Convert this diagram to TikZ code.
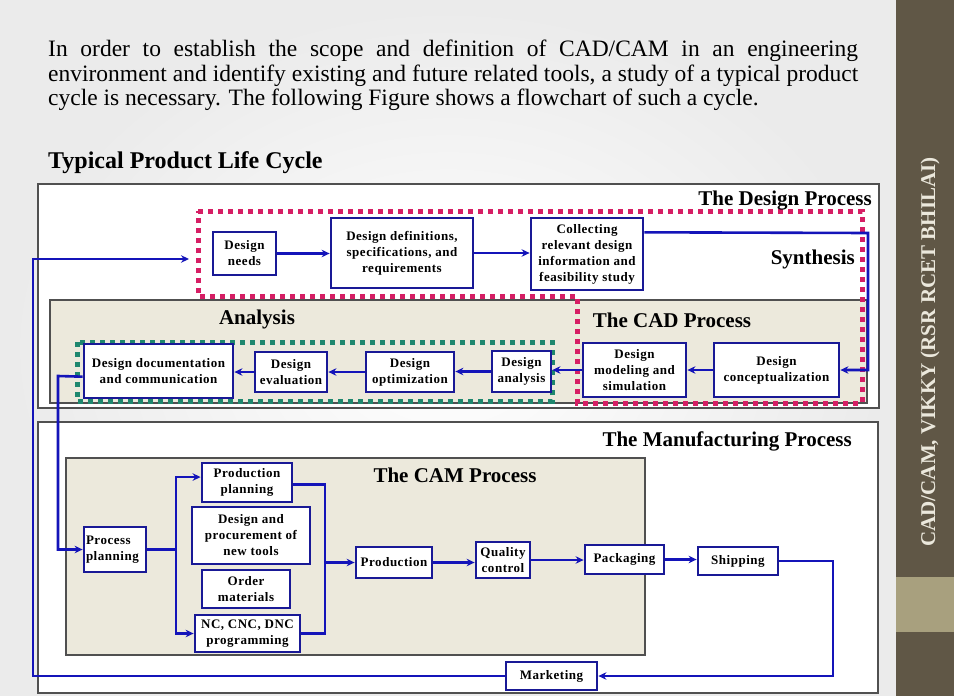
\documentclass[tikz,border=0pt]{standalone}
\usepackage{fontspec}
\setmainfont{Liberation Serif}
\usetikzlibrary{arrows.meta,calc}
\definecolor{flow}{RGB}{20,20,185}
\definecolor{boxb}{RGB}{25,25,150}
\definecolor{pinkd}{RGB}{214,30,100}
\definecolor{greend}{RGB}{30,135,110}
\definecolor{beige}{RGB}{236,233,220}
\definecolor{framec}{RGB}{80,80,80}
\definecolor{side}{RGB}{96,87,70}
\definecolor{sidelt}{RGB}{168,160,126}
\definecolor{sidetxt}{RGB}{235,232,220}
\newcommand{\boxfont}{\fontsize{13}{16}\selectfont\bfseries\addfontfeature{LetterSpace=4}}
\tikzset{
  bx/.style={draw=boxb, line width=2.8pt, fill=white, inner sep=1pt, align=center, font=\boxfont},
  arr/.style={draw=flow, line width=2.6pt, -{Stealth[length=8pt,width=7.5pt]}},
  ln/.style={draw=flow, line width=2.6pt},
  hd/.style={font=\fontsize{21}{23}\selectfont\bfseries, inner sep=0pt},
  region/.style={draw=framec, line width=1.3pt},
  pinkdots/.style={draw=pinkd, line width=5pt, dash pattern=on 5pt off 5pt},
  greendots/.style={draw=greend, line width=5pt, dash pattern=on 5pt off 5pt}
}
\begin{document}
\begin{tikzpicture}[x=1pt,y=-1pt]
\useasboundingbox (0,0) rectangle (954,696);
% background
\shade[inner color=white, outer color=black!8] (0,0) rectangle (896,696);
% sidebar
\fill[side] (896,0) rectangle (954,696);
\fill[sidelt] (896,577) rectangle (954,632);
\node[rotate=90, text=sidetxt, font=\fontsize{21}{23}\selectfont\bfseries] (sidet) at (930,352) {CAD/CAM, VIKKY (RSR RCET BHILAI)};
% paragraph
\node[anchor=north west, text width=810pt, align=justify, inner sep=0pt, font=\fontsize{23.5}{24.5}\selectfont] (para) at (48,40)
 {In order to establish the scope and definition of CAD/CAM in an engineering\linebreak environment and identify existing and future related tools, a study of a typical product\linebreak cycle is necessary. The following Figure shows a flowchart of such a cycle.};
\node[anchor=base west, inner sep=0pt, font=\fontsize{24}{26}\selectfont\bfseries] (title) at (48,168) {Typical Product Life Cycle};
% regions
\draw[region, fill=white] (38,184) rectangle (879,408);
\draw[region, fill=beige] (50,300) rectangle (867,403);
\draw[region, fill=white] (38,422) rectangle (878,693);
\draw[region, fill=beige] (66,458) rectangle (645,655);
\draw[pinkdots] (198,211) -- (862,211) -- (862,403) -- (577,403) -- (577,296) -- (198,296) -- cycle;
\draw[greendots] (77,342) rectangle (552,401);
% headings
\node[hd, anchor=east] (hdes) at (872,201) {The Design Process};
\node[hd, anchor=east] (hsyn) at (855,259) {Synthesis};
\node[hd] (hana) at (257,319) {Analysis};
\node[hd] (hcad) at (672,320) {The CAD Process};
\node[hd, anchor=east] (hman) at (852,441) {The Manufacturing Process};
\node[hd] (hcam) at (455,475) {The CAM Process};
% nodes
\node[bx, minimum width=63pt, minimum height=43pt] (needs) at (244.5,253.5) {Design\\needs};
\node[bx, minimum width=142pt, minimum height=70pt] (defs) at (402,253) {Design definitions,\\specifications, and\\requirements};
\node[bx, minimum width=112pt, minimum height=72pt] (coll) at (587,254) {Collecting\\relevant design\\information and\\feasibility study};
\node[bx, minimum width=125pt, minimum height=54pt] (concept) at (776.5,370) {Design\\conceptualization};
\node[bx, minimum width=103pt, minimum height=54pt] (model) at (634.5,370) {Design\\modeling and\\simulation};
\node[bx, minimum width=59pt, minimum height=41pt] (anal) at (521.5,371.5) {Design\\analysis};
\node[bx, minimum width=88pt, minimum height=40pt] (optim) at (410,372) {Design\\optimization};
\node[bx, minimum width=72pt, minimum height=40pt] (eval) at (291,372) {Design\\evaluation};
\node[bx, minimum width=149pt, minimum height=54pt] (doc) at (158.5,371) {Design documentation\\and communication};
\node[bx, minimum width=62pt, minimum height=45pt, align=left, text width=58pt] (procplan) at (115,549.5) {Process\\planning};
\node[bx, minimum width=90pt, minimum height=39pt] (prodplan) at (247,482.5) {Production\\planning};
\node[bx, minimum width=118pt, minimum height=57pt] (tools) at (251,535.5) {Design and\\procurement of\\new tools};
\node[bx, minimum width=88pt, minimum height=38pt] (order) at (246,589) {Order\\materials};
\node[bx, minimum width=105pt, minimum height=37pt] (nc) at (247.5,633.5) {NC, CNC, DNC\\programming};
\node[bx, minimum width=76pt, minimum height=31pt] (production) at (394,562.5) {Production};
\node[bx, minimum width=54pt, minimum height=36pt] (quality) at (503,560) {Quality\\control};
\node[bx, minimum width=79pt, minimum height=29pt] (pack) at (624.5,559.5) {Packaging};
\node[bx, minimum width=80pt, minimum height=28pt] (ship) at (738,561) {Shipping};
\node[bx, minimum width=91pt, minimum height=28pt] (market) at (551.5,676) {Marketing};
\coordinate (synthin) at (189,259);
% connectors
\draw[arr] (needs.east) -- (needs.east -| defs.west);
\draw[arr] (defs.east) -- (defs.east -| coll.west);
\draw[arr] ($(coll.north east)!0.21!(coll.south east)$) -- (868,233) |- (concept.east);
\draw[arr] (concept.west) -- (concept.west -| model.east);
\draw[arr] (model.west) -- (model.west -| anal.east);
\draw[arr] (anal.west) -- (anal.west -| optim.east);
\draw[arr] (optim.west) -- (optim.west -| eval.east);
\draw[arr] (eval.west) -- (eval.west -| doc.east);
\draw[arr] ($(doc.north west)!0.6!(doc.south west)$) -- (58,376) |- (procplan.west);
\draw[ln] (procplan.east) -- (176,549.5);
\draw[arr] (176,549.5) |- ($(prodplan.north west)!0.37!(prodplan.south west)$);
\draw[arr] (176,549.5) |- (nc.west);
\draw[ln] ($(prodplan.north east)!0.55!(prodplan.south east)$) -| (325,562.5);
\draw[ln] (nc.east) -| (325,562.5);
\draw[arr] (325,562.5) -- (production.west);
\draw[arr] (production.east) -- (production.east -| quality.west);
\draw[arr] (quality.east) -- (quality.east -| pack.west);
\draw[arr] (pack.east) -- (pack.east -| ship.west);
\draw[arr] (ship.east) -- (833,561) |- (market.east);
\draw[arr] (market.west) -- (33,676) |- (synthin);
\end{tikzpicture}
\end{document}
